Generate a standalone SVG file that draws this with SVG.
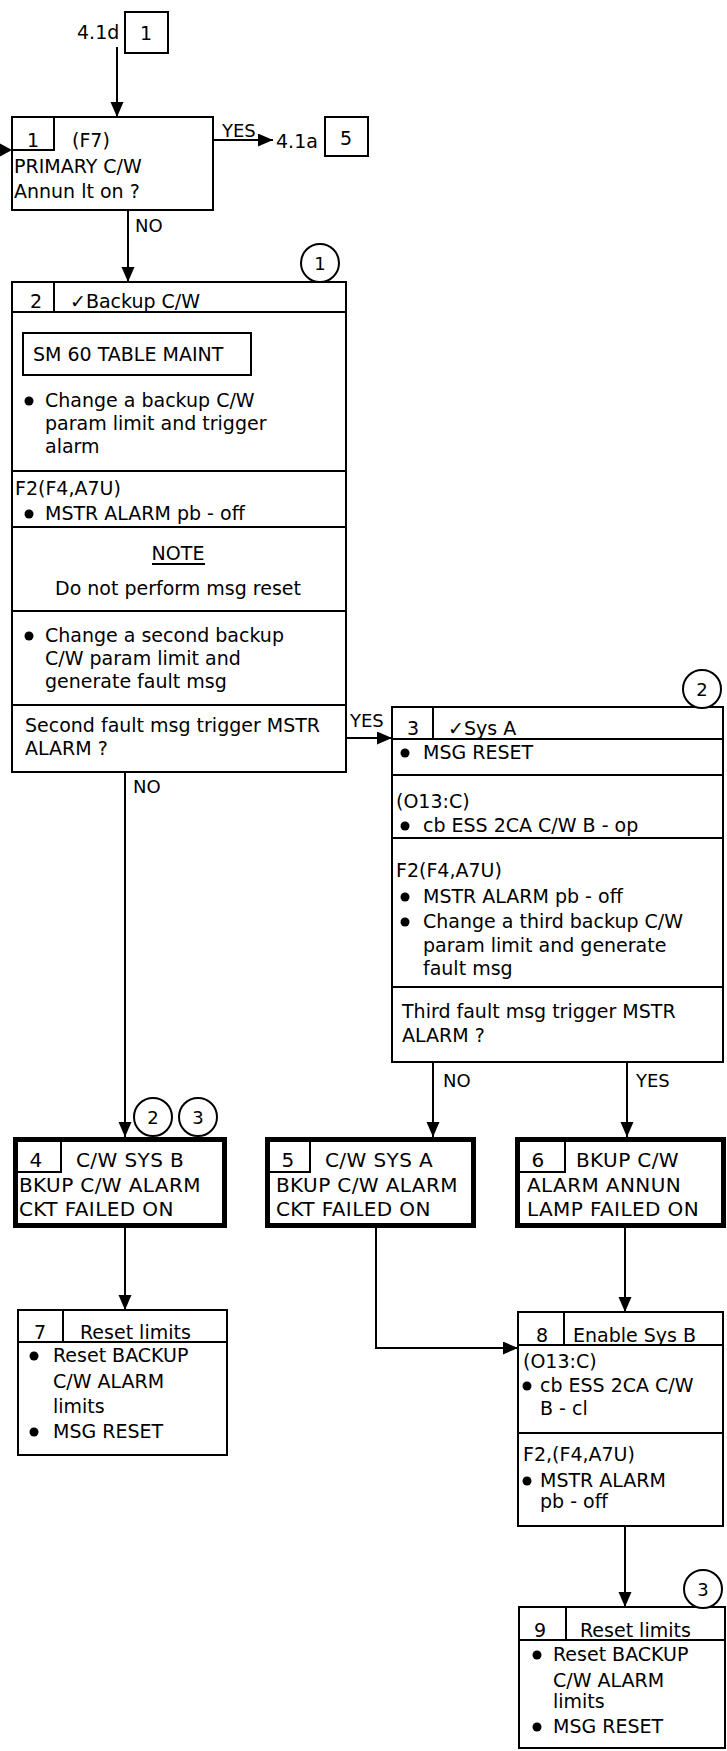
<svg xmlns="http://www.w3.org/2000/svg" width="727" height="1751" viewBox="0 0 727 1751">
<style>
.box{fill:#fff;stroke:#000;stroke-width:2}
.thick{fill:#fff;stroke:#000;stroke-width:5}
.ln{fill:none;stroke:#000;stroke-width:2}
.t{font-family:"DejaVu Sans","Liberation Sans",sans-serif;font-size:19px;fill:#000}
.big{font-size:20px;letter-spacing:0.4px}
.lbl{font-size:18px}
.c{text-anchor:middle}
.dot{fill:#000}
.circ{fill:#fff;stroke:#000;stroke-width:2}
</style>
<defs>
<marker id="arr" markerUnits="userSpaceOnUse" markerWidth="16" markerHeight="14" refX="15" refY="6.5" orient="auto">
<path d="M0,0 L15,6.5 L0,13 z" fill="#000"/>
</marker>
</defs>
<rect width="727" height="1751" fill="#fff"/>

<g id="connectors">
<line class="ln" x1="117" y1="47" x2="117" y2="117" marker-end="url(#arr)"/>
<line class="ln" x1="0" y1="150" x2="4" y2="150"/>
<path d="M0,143.5 L12,150 L0,156.5 z" fill="#000"/>
<line class="ln" x1="213" y1="140" x2="273" y2="140" marker-end="url(#arr)"/>
<line class="ln" x1="128" y1="210" x2="128" y2="282" marker-end="url(#arr)"/>
<line class="ln" x1="346" y1="738" x2="392" y2="738" marker-end="url(#arr)"/>
<line class="ln" x1="125" y1="772" x2="125" y2="1137" marker-end="url(#arr)"/>
<line class="ln" x1="433" y1="1062" x2="433" y2="1137" marker-end="url(#arr)"/>
<line class="ln" x1="627" y1="1062" x2="627" y2="1137" marker-end="url(#arr)"/>
<line class="ln" x1="125" y1="1228" x2="125" y2="1310" marker-end="url(#arr)"/>
<polyline class="ln" points="376,1228 376,1348 518,1348" marker-end="url(#arr)"/>
<line class="ln" x1="625" y1="1228" x2="625" y2="1312" marker-end="url(#arr)"/>
<line class="ln" x1="625" y1="1526" x2="625" y2="1607" marker-end="url(#arr)"/>
<text class="t lbl" x="222" y="137">YES</text>
<text class="t lbl" x="135" y="232">NO</text>
<text class="t lbl" x="350" y="727">YES</text>
<text class="t lbl" x="133" y="793">NO</text>
<text class="t lbl" x="443" y="1087">NO</text>
<text class="t lbl" x="636" y="1087">YES</text>
</g>

<g id="ref-top">
<text class="t" x="77" y="39">4.1d</text>
<rect class="box" x="125" y="12" width="43" height="41"/>
<text class="t c" x="146" y="40">1</text>
</g>

<g id="ref-right">
<text class="t" x="276" y="148">4.1a</text>
<rect class="box" x="325" y="117" width="43" height="39"/>
<text class="t c" x="346" y="145">5</text>
</g>

<g id="node1">
<rect class="box" x="12" y="117" width="201" height="93"/>
<polyline class="ln" points="12,150 54,150 54,117"/>
<text class="t c" x="33" y="147">1</text>
<text class="t" x="72" y="147">(F7)</text>
<text class="t" x="14" y="173">PRIMARY C/W</text>
<text class="t" x="14" y="198">Annun lt on  ?</text>
</g>

<g id="node2">
<rect class="box" x="12" y="282" width="334" height="490"/>
<line class="ln" x1="12" y1="312" x2="346" y2="312"/>
<line class="ln" x1="54" y1="282" x2="54" y2="312"/>
<line class="ln" x1="12" y1="471" x2="346" y2="471"/>
<line class="ln" x1="12" y1="527" x2="346" y2="527"/>
<line class="ln" x1="12" y1="611" x2="346" y2="611"/>
<line class="ln" x1="12" y1="705" x2="346" y2="705"/>
<text class="t c" x="36" y="308">2</text>
<text class="t" x="70" y="308">✓Backup C/W</text>
<rect class="box" x="23" y="333" width="228" height="42"/>
<text class="t" x="33" y="361">SM 60 TABLE MAINT</text>
<circle class="dot" cx="29" cy="401" r="4.5"/>
<text class="t" x="45" y="407">Change a backup C/W</text>
<text class="t" x="45" y="430">param limit and trigger</text>
<text class="t" x="45" y="453">alarm</text>
<text class="t" x="15" y="495">F2(F4,A7U)</text>
<circle class="dot" cx="29" cy="514" r="4.5"/>
<text class="t" x="45" y="520">MSTR ALARM pb - off</text>
<text class="t c" x="178" y="560">NOTE</text>
<line class="ln" x1="152" y1="564" x2="205" y2="564"/>
<text class="t c" x="178" y="595">Do not perform msg reset</text>
<circle class="dot" cx="29" cy="636" r="4.5"/>
<text class="t" x="45" y="642">Change a second backup</text>
<text class="t" x="45" y="665">C/W param limit and</text>
<text class="t" x="45" y="688">generate fault msg</text>
<text class="t" x="25" y="732">Second fault msg trigger MSTR</text>
<text class="t" x="25" y="755">ALARM  ?</text>
</g>

<g id="circle1">
<circle class="circ" cx="320" cy="263" r="19"/>
<text class="t lbl c" x="320" y="270">1</text>
</g>

<g id="node3">
<rect class="box" x="392" y="707" width="331" height="355"/>
<line class="ln" x1="392" y1="739" x2="723" y2="739"/>
<line class="ln" x1="433" y1="707" x2="433" y2="739"/>
<line class="ln" x1="392" y1="775" x2="723" y2="775"/>
<line class="ln" x1="392" y1="838" x2="723" y2="838"/>
<line class="ln" x1="392" y1="987" x2="723" y2="987"/>
<text class="t c" x="413" y="735">3</text>
<text class="t" x="448" y="735">✓Sys A</text>
<circle class="dot" cx="405" cy="753" r="4.5"/>
<text class="t" x="423" y="759">MSG RESET</text>
<text class="t" x="396" y="808">(O13:C)</text>
<circle class="dot" cx="405" cy="826" r="4.5"/>
<text class="t" x="423" y="832">cb ESS 2CA C/W B - op</text>
<text class="t" x="396" y="877">F2(F4,A7U)</text>
<circle class="dot" cx="405" cy="897" r="4.5"/>
<text class="t" x="423" y="903">MSTR ALARM pb - off</text>
<circle class="dot" cx="405" cy="922" r="4.5"/>
<text class="t" x="423" y="928">Change a third backup C/W</text>
<text class="t" x="423" y="952">param limit and generate</text>
<text class="t" x="423" y="975">fault msg</text>
<text class="t" x="402" y="1018">Third fault msg trigger MSTR</text>
<text class="t" x="402" y="1042">ALARM  ?</text>
</g>

<g id="circle2">
<circle class="circ" cx="702" cy="689" r="19"/>
<text class="t lbl c" x="702" y="696">2</text>
</g>

<g id="node4">
<rect class="thick" x="15.5" y="1139.5" width="209" height="86"/>
<polyline class="ln" points="15,1172 61,1172 61,1140"/>
<text class="t big c" x="36" y="1167">4</text>
<text class="t big" x="76" y="1167">C/W SYS B</text>
<text class="t big" x="19" y="1192">BKUP C/W ALARM</text>
<text class="t big" x="19" y="1216">CKT FAILED ON</text>
</g>

<g id="circles4">
<circle class="circ" cx="153" cy="1117" r="19"/>
<text class="t lbl c" x="153" y="1124">2</text>
<circle class="circ" cx="198" cy="1117" r="19"/>
<text class="t lbl c" x="198" y="1124">3</text>
</g>

<g id="node5">
<rect class="thick" x="267.5" y="1139.5" width="206" height="86"/>
<polyline class="ln" points="267,1172 310,1172 310,1140"/>
<text class="t big c" x="288" y="1167">5</text>
<text class="t big" x="325" y="1167">C/W SYS A</text>
<text class="t big" x="276" y="1192">BKUP C/W ALARM</text>
<text class="t big" x="276" y="1216">CKT FAILED ON</text>
</g>

<g id="node6">
<rect class="thick" x="517.5" y="1139.5" width="206" height="86"/>
<polyline class="ln" points="517,1172 565,1172 565,1140"/>
<text class="t big c" x="538" y="1167">6</text>
<text class="t big" x="576" y="1167">BKUP C/W</text>
<text class="t big" x="527" y="1192">ALARM ANNUN</text>
<text class="t big" x="527" y="1216">LAMP FAILED ON</text>
</g>

<g id="node7">
<rect class="box" x="18" y="1310" width="209" height="145"/>
<line class="ln" x1="18" y1="1342" x2="227" y2="1342"/>
<line class="ln" x1="63" y1="1310" x2="63" y2="1342"/>
<text class="t c" x="40" y="1339">7</text>
<text class="t" x="80" y="1339">Reset limits</text>
<circle class="dot" cx="34" cy="1356" r="4.5"/>
<text class="t" x="53" y="1362">Reset BACKUP</text>
<text class="t" x="53" y="1388">C/W ALARM</text>
<text class="t" x="53" y="1413">limits</text>
<circle class="dot" cx="34" cy="1432" r="4.5"/>
<text class="t" x="53" y="1438">MSG RESET</text>
</g>

<g id="node8">
<rect class="box" x="518" y="1312" width="205" height="214"/>
<line class="ln" x1="518" y1="1345" x2="723" y2="1345"/>
<line class="ln" x1="564" y1="1312" x2="564" y2="1345"/>
<line class="ln" x1="518" y1="1433" x2="723" y2="1433"/>
<text class="t c" x="542" y="1342">8</text>
<text class="t" x="573" y="1342">Enable Sys B</text>
<text class="t" x="523" y="1368">(O13:C)</text>
<circle class="dot" cx="527" cy="1386" r="4.5"/>
<text class="t" x="540" y="1392">cb ESS 2CA C/W</text>
<text class="t" x="540" y="1415">B - cl</text>
<text class="t" x="523" y="1461">F2,(F4,A7U)</text>
<circle class="dot" cx="527" cy="1481" r="4.5"/>
<text class="t" x="540" y="1487">MSTR ALARM</text>
<text class="t" x="540" y="1508">pb - off</text>
</g>

<g id="node9">
<rect class="box" x="519" y="1607" width="206" height="141"/>
<line class="ln" x1="519" y1="1640" x2="725" y2="1640"/>
<line class="ln" x1="566" y1="1607" x2="566" y2="1640"/>
<text class="t c" x="540" y="1637">9</text>
<text class="t" x="580" y="1637">Reset limits</text>
<circle class="dot" cx="537" cy="1655" r="4.5"/>
<text class="t" x="553" y="1661">Reset BACKUP</text>
<text class="t" x="553" y="1687">C/W ALARM</text>
<text class="t" x="553" y="1708">limits</text>
<circle class="dot" cx="537" cy="1727" r="4.5"/>
<text class="t" x="553" y="1733">MSG RESET</text>
</g>

<g id="circle3">
<circle class="circ" cx="703" cy="1589" r="19"/>
<text class="t lbl c" x="703" y="1596">3</text>
</g>
</svg>
